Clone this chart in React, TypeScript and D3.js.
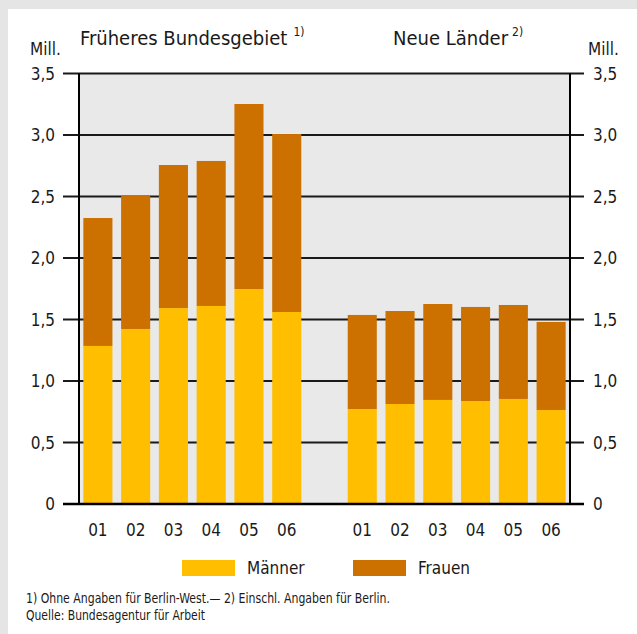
import React, { useEffect, useRef } from "react";
import * as d3 from "d3";

// values (Mill.)
const years = ["01", "02", "03", "04", "05", "06"];
const westMen = [1.285, 1.423, 1.593, 1.61, 1.748, 1.561];
const westWomen = [1.04, 1.081, 1.163, 1.179, 1.504, 1.447];
const eastMen = [0.772, 0.813, 0.846, 0.837, 0.854, 0.764];
const eastWomen = [0.765, 0.756, 0.78, 0.765, 0.764, 0.716];
const yTicks = [0, 0.5, 1, 1.5, 2, 2.5, 3, 3.5];
const seriesNames = ["Männer", "Frauen"];
const colors = ["#ffbe00", "#cc7000"];

const FONT = "'Liberation Sans Narrow', 'DejaVu Sans Condensed', Lato, sans-serif";

const App = () => {
  const ref = useRef(null);

  useEffect(() => {
    document.body.style.margin = "0";
    const W = 637;
    const H = 634;
    const left = 79;
    const right = 570;
    const top = 73.5;
    const bottom = 504;

    const svg = d3.select(ref.current).attr("width", W).attr("height", H);
    svg.selectAll("*").remove();

    // rows: west 6, empty slot, east 6
    const rows = [
      ...years.map((y, i) => ({ key: "w" + y, label: y, Männer: westMen[i], Frauen: westWomen[i] })),
      { key: "gap", label: "", Männer: 0, Frauen: 0 },
      ...years.map((y, i) => ({ key: "e" + y, label: y, Männer: eastMen[i], Frauen: eastWomen[i] })),
    ];

    const x = d3
      .scaleBand()
      .domain(rows.map((d) => d.key))
      .range([left, right])
      .paddingInner(0.23)
      .paddingOuter(0.115);
    const y = d3.scaleLinear().domain([0, 3.5]).range([bottom, top]);

    svg.append("rect").attr("width", W).attr("height", H).attr("fill", "#e5e5e5");
    svg.append("rect").attr("x", 8).attr("y", 9).attr("width", W - 8).attr("height", H - 9).attr("fill", "#ffffff");

    // plot background
    svg
      .append("rect")
      .attr("x", left)
      .attr("y", top)
      .attr("width", right - left)
      .attr("height", bottom - top)
      .attr("fill", "#e9e9e9");

    // grid lines + outside ticks
    svg
      .append("g")
      .selectAll("line")
      .data(yTicks.filter((t) => t > 0))
      .join("line")
      .attr("x1", left - 16)
      .attr("x2", right + 14)
      .attr("y1", (d) => y(d))
      .attr("y2", (d) => y(d))
      .attr("stroke", "#1a1a1a")
      .attr("stroke-width", 1.8);

    // stacked bars
    const stack = d3.stack().keys(seriesNames);
    const layers = stack(rows);
    svg
      .append("g")
      .selectAll("g")
      .data(layers)
      .join("g")
      .attr("fill", (d, i) => colors[i])
      .selectAll("rect")
      .data((d) => d.filter((p) => p.data.key !== "gap"))
      .join("rect")
      .attr("x", (d) => x(d.data.key))
      .attr("width", x.bandwidth())
      .attr("y", (d) => y(d[1]))
      .attr("height", (d) => y(d[0]) - y(d[1]));

    // axes frame
    svg.append("line").attr("x1", left).attr("x2", left).attr("y1", top).attr("y2", bottom)
      .attr("stroke", "#000").attr("stroke-width", 2);
    svg.append("line").attr("x1", right).attr("x2", right).attr("y1", top).attr("y2", bottom)
      .attr("stroke", "#000").attr("stroke-width", 2);
    svg.append("line").attr("x1", left - 16).attr("x2", right + 14).attr("y1", y(0)).attr("y2", y(0))
      .attr("stroke", "#000").attr("stroke-width", 2.5);

    const text = (g, s, xx, yy, size, anchor = "start") =>
      g
        .append("text")
        .attr("x", xx)
        .attr("y", yy)
        .attr("font-family", FONT)
        .attr("font-size", size)
        .attr("fill", "#1a1a1a")
        .attr("text-anchor", anchor)
        .text(s);

    // y tick labels both sides
    const fmt = (d) => (d === 0 ? "0" : d3.format(".1f")(d).replace(".", ","));
    yTicks.forEach((t) => {
      text(svg, fmt(t), 55, y(t) + 6, 17, "end");
      text(svg, fmt(t), 593, y(t) + 6, 17, "start");
    });
    text(svg, "Mill.", 30, 55, 17);
    text(svg, "Mill.", 588, 55, 17);

    // x labels
    rows
      .filter((d) => d.key !== "gap")
      .forEach((d) => text(svg, d.label, x(d.key) + x.bandwidth() / 2, 536, 17, "middle"));

    // panel titles
    const t1 = text(svg, "Früheres Bundesgebiet", 80, 45, 20);
    t1.append("tspan").attr("dx", 6).attr("dy", -9).attr("font-size", 12).text("1)");
    const t2 = text(svg, "Neue Länder", 393, 45, 20);
    t2.append("tspan").attr("dx", 4).attr("dy", -9).attr("font-size", 12).text("2)");

    // legend
    const legendX = [182, 353];
    seriesNames.forEach((s, i) => {
      svg.append("rect").attr("x", legendX[i]).attr("y", 560).attr("width", 53).attr("height", 16).attr("fill", colors[i]);
      text(svg, s, legendX[i] + 65, 574, 17);
    });

    // footnotes
    text(svg, "1) Ohne Angaben für Berlin-West.— 2) Einschl. Angaben für Berlin.", 26, 603, 13.5)
      .attr("textLength", 364)
      .attr("lengthAdjust", "spacingAndGlyphs");
    text(svg, "Quelle: Bundesagentur für Arbeit", 26, 620, 13.5)
      .attr("textLength", 179)
      .attr("lengthAdjust", "spacingAndGlyphs");
  });

  return <svg ref={ref}></svg>;
};

export default App;
